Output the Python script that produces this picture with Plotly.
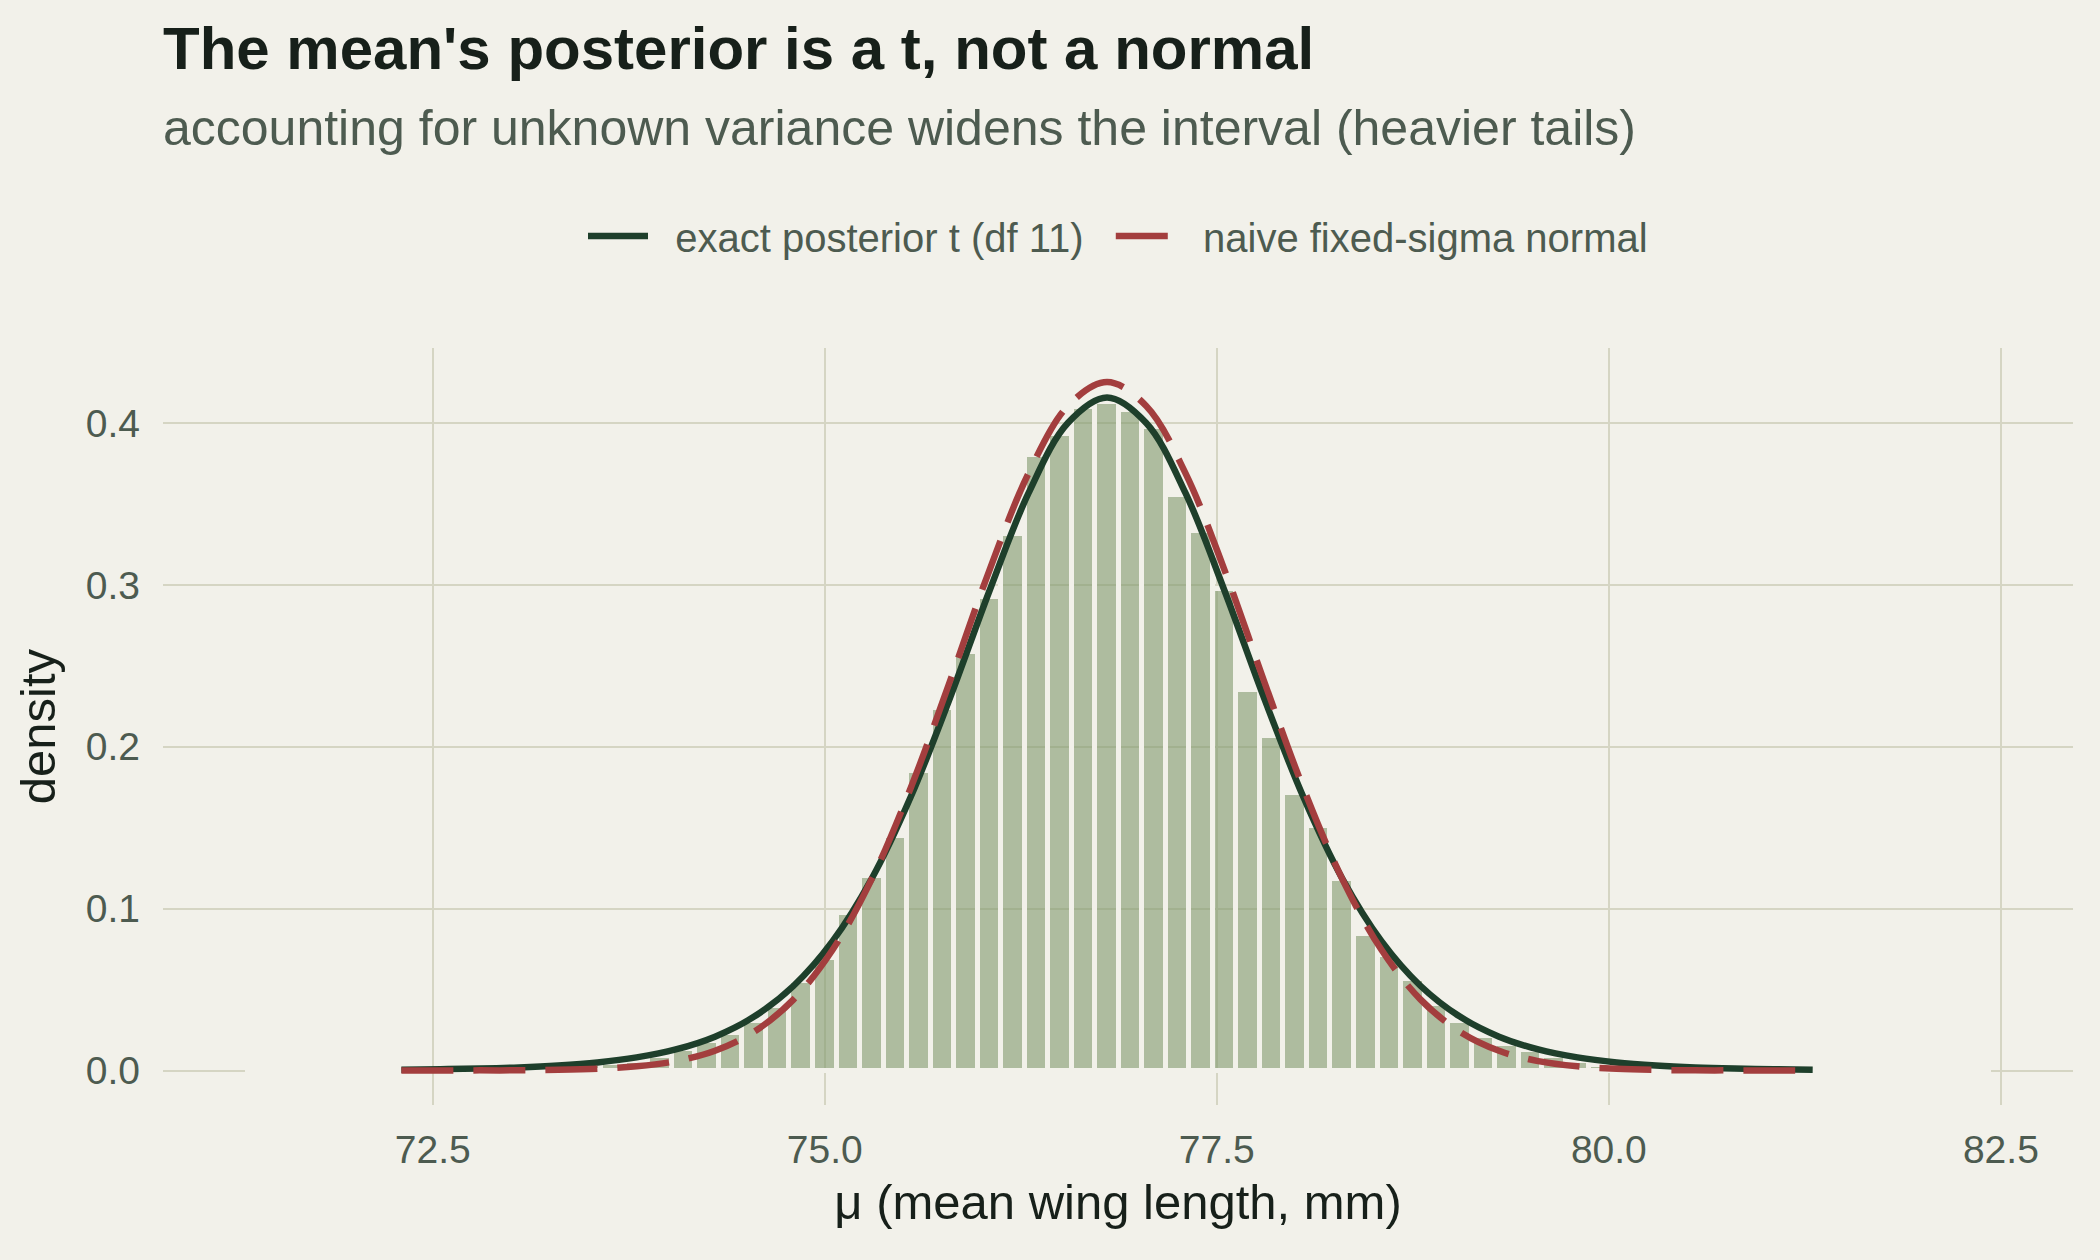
import plotly.graph_objects as go

# ---- data ----
bin_left = 71.325
bin_width = 0.15
bar_density = [
    0.0001, 0.0001, 0.0001, 0.0002, 0.0002, 0.0003, 0.0004, 0.0005, 0.0007, 0.0009,
    0.0012, 0.0016, 0.0022, 0.0030, 0.0040, 0.0048, 0.0058, 0.0087, 0.0136, 0.0180,
    0.0230, 0.0306, 0.0400, 0.0554, 0.0697, 0.0972, 0.1199, 0.1451, 0.1848, 0.2240,
    0.2586, 0.2926, 0.3314, 0.3802, 0.3933, 0.4100, 0.4128, 0.4077, 0.3972, 0.3553,
    0.3334, 0.2977, 0.2350, 0.2064, 0.1712, 0.1513, 0.1185, 0.0844, 0.0711, 0.0563,
    0.0413, 0.0306, 0.0215, 0.0164, 0.0124, 0.0087, 0.0059, 0.0035, 0.0025, 0.0018,
    0.0013, 0.0009, 0.0007, 0.0005, 0.0004, 0.0003, 0.0002, 0.0002, 0.0001, 0.0001,
    0.0001, 0.0001, 0.0001, 0.0001,
]
bar_centers = [round(bin_left + bin_width * (i + 0.5), 4) for i in range(len(bar_density))]

curve_x = [72.3, 72.55, 72.8, 73.05, 73.3, 73.55, 73.8, 74.05, 74.3, 74.55, 74.8, 75.05,
           75.3, 75.55, 75.8, 76.05, 76.3, 76.55, 76.8, 77.05, 77.3, 77.55, 77.8, 78.05,
           78.3, 78.55, 78.8, 79.05, 79.3, 79.55, 79.8, 80.05, 80.3, 80.55, 80.8, 81.05, 81.3]
t_density = [0.0005, 0.0008, 0.0012, 0.0019, 0.0031, 0.0050, 0.0081, 0.0130, 0.0209, 0.0333,
             0.0522, 0.0799, 0.1186, 0.1694, 0.2305, 0.2962, 0.3568, 0.4000, 0.4158, 0.4000,
             0.3568, 0.2962, 0.2305, 0.1694, 0.1186, 0.0799, 0.0522, 0.0333, 0.0209, 0.0130,
             0.0081, 0.0050, 0.0031, 0.0019, 0.0012, 0.0008, 0.0005]
normal_density = [0.0000, 0.0000, 0.0001, 0.0001, 0.0004, 0.0011, 0.0026, 0.0058, 0.0122, 0.0240,
                  0.0438, 0.0746, 0.1184, 0.1750, 0.2409, 0.3090, 0.3690, 0.4105, 0.4253, 0.4105,
                  0.3690, 0.3090, 0.2409, 0.1750, 0.1184, 0.0746, 0.0438, 0.0240, 0.0122, 0.0058,
                  0.0026, 0.0011, 0.0004, 0.0001, 0.0001, 0.0000, 0.0000]

x_ticks = [72.5, 75.0, 77.5, 80.0, 82.5]
y_ticks = [0.0, 0.1, 0.2, 0.3, 0.4]

title = "The mean's posterior is a t, not a normal"
subtitle = "accounting for unknown variance widens the interval (heavier tails)"
x_title = "μ (mean wing length, mm)"
y_title = "density"
t_name = "exact posterior t (df 11)"
n_name = "naive fixed-sigma normal"

# ---- style ----
BG = "#f2f1ea"
GRID = "#d5d5c3"
BAR = "rgba(128,154,108,0.6)"
T_COL = "#1e3f2b"
N_COL = "#a33e3e"
TICK_COL = "#4d5b50"
DARK = "#17201a"
FONT = "Liberation Sans"
NB = "\u00a0"

fig = go.Figure()
fig.add_trace(go.Bar(
    x=bar_centers, y=bar_density, width=bin_width,
    marker=dict(color=BAR, line=dict(color=BG, width=5)),
    showlegend=False, hoverinfo="skip",
))
fig.add_trace(go.Scatter(
    x=curve_x, y=t_density, mode="lines", name=NB * 2 + t_name + NB * 2,
    line=dict(color=T_COL, width=6.5, shape="spline"),
))
fig.add_trace(go.Scatter(
    x=curve_x, y=normal_density, mode="lines", name=NB * 2 + n_name,
    line=dict(color=N_COL, width=6.5, shape="spline", dash="52px,20px"),
))

fig.update_layout(
    width=2100, height=1260,
    paper_bgcolor=BG, plot_bgcolor=BG,
    margin=dict(l=163, r=27, t=348, b=155),
    bargap=0,
    font=dict(family=FONT, color=TICK_COL),
    showlegend=True,
    legend=dict(
        orientation="h", x=0.5, xanchor="center", y=1.148, yanchor="middle",
        font=dict(size=40, color=TICK_COL, family=FONT),
        bgcolor="rgba(0,0,0,0)", itemwidth=60,
    ),
    xaxis=dict(
        range=[70.78, 82.96], tickvals=x_ticks, ticktext=[f"{v:.1f}" for v in x_ticks],
        showgrid=True, gridcolor=GRID, gridwidth=2, zeroline=False, showline=False,
        ticks="", ticklabelstandoff=18,
        tickfont=dict(size=39, color=TICK_COL, family=FONT),
        title=dict(text=x_title, font=dict(size=49, color=DARK, family=FONT), standoff=14),
    ),
    yaxis=dict(
        range=[-0.0213, 0.4463], tickvals=y_ticks, ticktext=[f"{v:.1f}" for v in y_ticks],
        showgrid=True, gridcolor=GRID, gridwidth=2, zeroline=False, showline=False,
        ticks="", ticklabelstandoff=22,
        tickfont=dict(size=39, color=TICK_COL, family=FONT),
        title=dict(text=y_title, font=dict(size=49, color=DARK, family=FONT), standoff=14),
    ),
    annotations=[
        dict(text=f"<b>{title}</b>", xref="paper", yref="paper", x=-0.001, y=1.395,
             xanchor="left", yanchor="middle", showarrow=False,
             font=dict(size=60, color=DARK, family=FONT)),
        dict(text=subtitle, xref="paper", yref="paper", x=-0.001, y=1.291,
             xanchor="left", yanchor="middle", showarrow=False,
             font=dict(size=50, color=TICK_COL, family=FONT)),
    ],
)

fig.write_html("out.html")
